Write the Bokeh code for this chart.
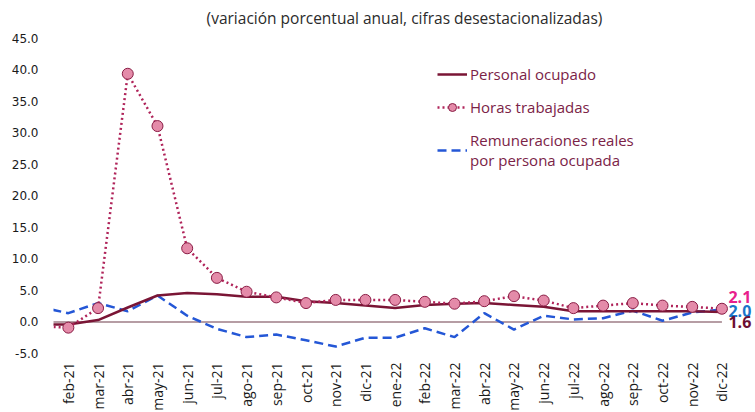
from math import pi
from bokeh.plotting import figure
from bokeh.models import (Range1d, FixedTicker, NumeralTickFormatter, Legend,
                          LegendItem, Label)
from bokeh.embed import file_html
from bokeh.resources import INLINE

# ---- data ----
months = ["ene-21", "feb-21", "mar-21", "abr-21", "may-21", "jun-21", "jul-21",
          "ago-21", "sep-21", "oct-21", "nov-21", "dic-21", "ene-22", "feb-22",
          "mar-22", "abr-22", "may-22", "jun-22", "jul-22", "ago-22", "sep-22",
          "oct-22", "nov-22", "dic-22"]
personal = [-0.4, -0.4, 0.3, 2.3, 4.2, 4.6, 4.4, 4.0, 4.0, 3.3, 3.0, 2.6,
            2.2, 2.7, 2.9, 3.0, 2.7, 2.4, 1.7, 1.7, 1.7, 1.7, 1.7, 1.6]
horas = [-0.7, -0.9, 2.2, 39.4, 31.1, 11.7, 7.0, 4.8, 3.9, 3.0, 3.5, 3.5,
         3.5, 3.2, 2.9, 3.3, 4.1, 3.4, 2.2, 2.6, 3.0, 2.6, 2.4, 2.1]
remun = [2.4, 1.4, 3.0, 1.7, 4.2, 1.0, -1.1, -2.4, -2.0, -2.9, -3.9, -2.5,
         -2.5, -1.0, -2.4, 1.4, -1.2, 1.0, 0.4, 0.6, 1.8, 0.2, 1.5, 2.0]
y_ticks = [-5, 0, 5, 10, 15, 20, 25, 30, 35, 40, 45]
title_text = "(variación porcentual anual, cifras desestacionalizadas)"
legend_labels = ["Personal ocupado", "Horas trabajadas",
                 "Remuneraciones reales\npor persona ocupada"]

x = list(range(len(months)))
Y_MIN, Y_MAX = -5, 45

# plot area extends past the value axis so the low category labels,
# the title and the end labels can sit inside it
X0, X1 = 0.5, 24.13
YB, YT = -14.37, 51.03

C_PERS = "#7A1535"
C_HORAS = "#B0245A"
C_REM = "#2457D6"

p = figure(frame_width=702, frame_height=412, output_backend="svg",
           toolbar_location=None, title=None,
           x_range=Range1d(X0, X1), y_range=Range1d(YB, YT),
           min_border_left=53, min_border_right=0, min_border_top=0,
           min_border_bottom=0)
p.outline_line_color = None
p.grid.visible = False
p.background_fill_color = "white"

# title
p.add_layout(Label(x=(X0 + X1) / 2, y=Y_MAX + 3.25, text=title_text,
                   text_align="center", text_baseline="middle",
                   text_font="Open Sans", text_font_size="15.5px",
                   text_color="#2b2b2b"))

# y axis
ya = p.yaxis[0]
ya.ticker = FixedTicker(ticks=y_ticks)
ya.formatter = NumeralTickFormatter(format="0.0")
ya.axis_line_color = None
ya.major_tick_line_color = None
ya.major_tick_out = 0
ya.major_tick_in = 0
ya.minor_tick_line_color = None
ya.major_label_text_font = "DejaVu Sans"
ya.major_label_text_font_size = "12px"
ya.major_label_text_color = "#1a1a1a"
ya.major_label_standoff = 15

# category labels at the low end of the value axis
p.xaxis.visible = False
for i in x[1:]:
    p.add_layout(Label(x=i, y=Y_MIN, y_offset=-9, text=months[i],
                       angle=pi / 2, text_align="right",
                       text_baseline="middle", text_font="Open Sans",
                       text_font_size="14px", text_color="#1a1a1a"))

# zero line (category axis)
p.segment(x0=[x[0]], y0=[0], x1=[x[-1]], y1=[0], line_color="#9E7D86",
          line_width=1.5)

r_rem = p.line(x, remun, line_color=C_REM, line_width=2.5, line_dash="9 5")
r_pers = p.line(x, personal, line_color=C_PERS, line_width=2.5)
r_hl = p.line(x, horas, line_color=C_HORAS, line_width=2.5, line_dash="2 3")
r_hm = p.scatter(x, horas, size=11, fill_color="#E48BA9",
                 line_color="#8A1D45", line_width=1)

legend = Legend(items=[
    LegendItem(label=legend_labels[0], renderers=[r_pers]),
    LegendItem(label=legend_labels[1], renderers=[r_hl, r_hm]),
    LegendItem(label=legend_labels[2], renderers=[r_rem]),
], location=(384, 242), border_line_color=None, background_fill_alpha=0,
    padding=0, margin=0, spacing=13, glyph_width=30, glyph_height=20,
    label_height=20, label_standoff=3, label_text_font="Open Sans",
    label_text_font_size="15px", label_text_color="#7B2347")
p.add_layout(legend)

# end value labels
for val, col, off in [(horas[-1], "#E8208C", 11.5), (remun[-1], "#1B75C9", -2),
                      (personal[-1], "#6C0F33", -10.5)]:
    p.add_layout(Label(x=x[-1], y=val, x_offset=6.5, y_offset=off,
                       text=f"{val:.1f}", text_color=col,
                       text_font="Open Sans", text_font_size="16px",
                       text_font_style="bold", text_baseline="middle",
                       text_align="left"))

open("out.html", "w").write(file_html(p, INLINE))
